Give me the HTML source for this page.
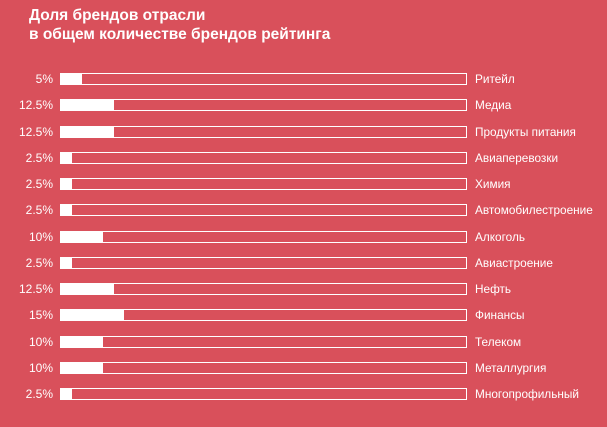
<!DOCTYPE html>
<html><head><meta charset="utf-8"><style>
body{margin:0;width:607px;height:427px;background:#d9505b;font-family:"Liberation Sans","DejaVu Sans",sans-serif;color:#fff;position:relative;overflow:hidden}
.t{position:absolute;left:29px;top:6px;font-size:15.5px;font-weight:bold;line-height:19px}
.r{position:absolute;left:0;width:607px;height:12px}
.p{position:absolute;right:554px;top:-1px;font-size:12px;line-height:14px}
.b{position:absolute;left:60px;top:0;width:405px;height:10px;border:1px solid #fff}
.f{position:absolute;left:0;top:0;height:10px;background:#fff}
.l{position:absolute;left:475px;top:-1px;font-size:11.8px;line-height:14px;white-space:nowrap}
</style></head><body>
<div class="t">Доля брендов отрасли<br>в общем количестве брендов рейтинга</div>
<div id="c"></div>
<script>
var d=[["5%",5,"Ритейл"],["12.5%",12.5,"Медиа"],["12.5%",12.5,"Продукты питания"],["2.5%",2.5,"Авиаперевозки"],["2.5%",2.5,"Химия"],["2.5%",2.5,"Автомобилестроение"],["10%",10,"Алкоголь"],["2.5%",2.5,"Авиастроение"],["12.5%",12.5,"Нефть"],["15%",15,"Финансы"],["10%",10,"Телеком"],["10%",10,"Металлургия"],["2.5%",2.5,"Многопрофильный"]];
var h="";d.forEach(function(e,i){var y=73+i*26.25;h+='<div class="r" style="top:'+y+'px"><div class="p">'+e[0]+'</div><div class="b"><div class="f" style="width:'+(e[1]*4.2)+'px"></div></div><div class="l">'+e[2]+'</div></div>';});
document.getElementById("c").innerHTML=h;
</script>
</body></html>
